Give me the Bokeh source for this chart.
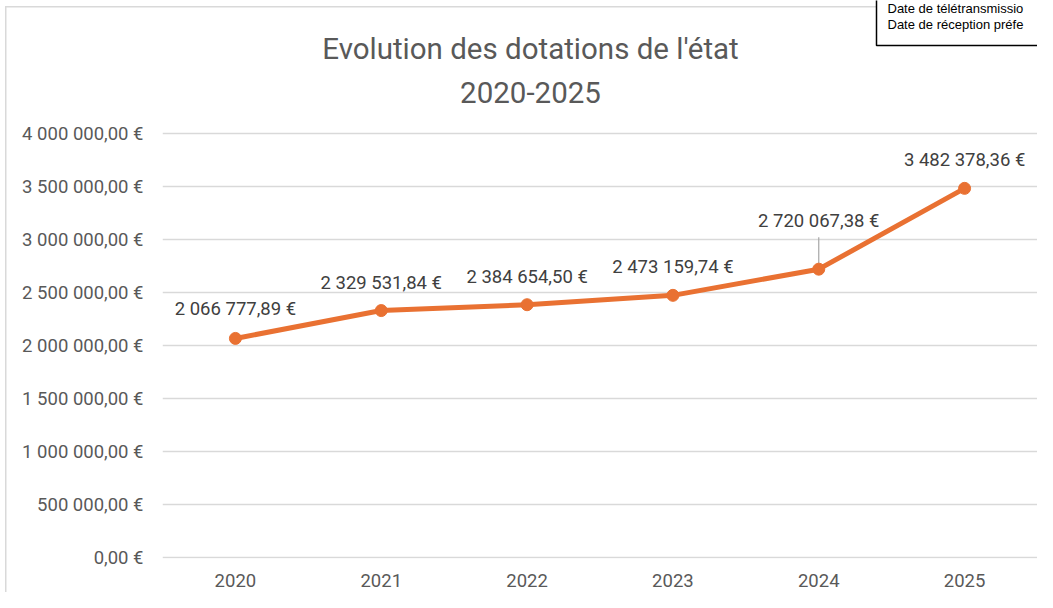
from bokeh.plotting import figure
from bokeh.models import (FactorRange, Range1d, FixedTicker, Label, ColumnDataSource)
from bokeh.core.properties import value
from bokeh.embed import file_html
from bokeh.resources import INLINE

# ---- data ----
years = ["2020", "2021", "2022", "2023", "2024", "2025"]
dotations = [2066777.89, 2329531.84, 2384654.50, 2473159.74, 2720067.38, 3482378.36]
value_labels = ["2 066 777,89 €", "2 329 531,84 €", "2 384 654,50 €",
                "2 473 159,74 €", "2 720 067,38 €", "3 482 378,36 €"]
y_ticks = [0, 500000, 1000000, 1500000, 2000000, 2500000, 3000000, 3500000, 4000000]
y_tick_labels = ["0,00 €", "500 000,00 €", "1 000 000,00 €", "1 500 000,00 €",
                 "2 000 000,00 €", "2 500 000,00 €", "3 000 000,00 €",
                 "3 500 000,00 €", "4 000 000,00 €"]
title_lines = ["Evolution des dotations de l'état", "2020-2025"]
# the stamp text as far as it is visible in the picture
stamp_lines = ["Date de télétransmissio", "Date de réception préfe"]

# ---- styles ----
ORANGE = "#E97132"
GRID = "#D9D9D9"
AXIS_TXT = "#595959"
LBL_TXT = "#404040"
FONT = "Roboto"
FS = "18.5px"
label_offsets = [-29, -28, -28, -28, -48, -28]

W, H = 1037, 592
LEFT, RIGHT, BOTTOM = 162, 0, 34
FRAME_BOTTOM = H - BOTTOM          # canvas px of frame bottom
Y0_PX, YTOP_PX = 557, 133          # where 0 and 4 000 000 fall on the canvas
s = (Y0_PX - YTOP_PX) / 4000000.0  # px per unit
y_start = -(FRAME_BOTTOM - Y0_PX) / s
y_end = 4000000 + YTOP_PX / s

p = figure(width=W, height=H, x_range=FactorRange(*years, range_padding=0),
           y_range=Range1d(y_start, y_end),
           output_backend="svg", toolbar_location=None, tools="",
           min_border_left=LEFT, min_border_right=RIGHT,
           min_border_top=0, min_border_bottom=BOTTOM)
p.outline_line_color = None
p.background_fill_color = None
p.border_fill_color = None
p.styles = {
    "background": ("linear-gradient(#D9D9D9,#D9D9D9) 5px 6px / 1.5px 100% no-repeat, "
                   "linear-gradient(#D9D9D9,#D9D9D9) 5px 6px / 880px 1.5px no-repeat, white")
}

p.yaxis.ticker = FixedTicker(ticks=y_ticks)
p.yaxis.major_label_overrides = {t: l for t, l in zip(y_ticks, y_tick_labels)}
for ax in (p.xaxis[0], p.yaxis[0]):
    ax.axis_line_color = None
    ax.major_tick_line_color = None
    ax.minor_tick_line_color = None
    ax.major_tick_in = 0
    ax.major_tick_out = 0
    ax.minor_tick_in = 0
    ax.minor_tick_out = 0
    ax.major_label_text_color = AXIS_TXT
    ax.major_label_text_font = FONT
    ax.major_label_text_font_size = FS
p.yaxis.major_label_standoff = 19
p.xaxis.major_label_standoff = 15
p.xgrid.grid_line_color = None
p.ygrid.grid_line_color = GRID
p.ygrid.grid_line_width = 1.3

src = ColumnDataSource(dict(x=years, y=dotations, txt=value_labels, off=label_offsets))

# leader line for the 2024 label
i24 = years.index("2024")
p.segment(x0=[years[i24]], y0=[dotations[i24]], x1=[years[i24]],
          y1=[dotations[i24] + 32 / s], line_color="#A6A6A6", line_width=1.2)

p.line("x", "y", source=src, line_color=ORANGE, line_width=5, line_join="round")
p.scatter("x", "y", source=src, size=12, fill_color=ORANGE, line_color=ORANGE)

p.text("x", "y", text="txt", source=src, y_offset="off", text_align="center",
       text_baseline="middle", text_color=LBL_TXT, text_font=value(FONT),
       text_font_size=FS)

# title
p.add_layout(Label(x=530, y=48, x_units="canvas", y_units="canvas", text=title_lines[0],
                   text_align="center", text_baseline="middle", text_color=AXIS_TXT,
                   text_font=FONT, text_font_size="29.5px"))
p.add_layout(Label(x=530, y=92, x_units="canvas", y_units="canvas", text=title_lines[1],
                   text_align="center", text_baseline="middle", text_color=AXIS_TXT,
                   text_font=FONT, text_font_size="29.5px"))

# stamp box (text with a bordered background)
p.add_layout(Label(x=876, y=45, x_units="canvas", y_units="canvas",
                   text="\n".join(stamp_lines),
                   text_align="left", text_baseline="bottom", text_color="black",
                   text_font="Liberation Sans", text_font_size="13px",
                   text_line_height=1.05,
                   background_fill_color="white", border_line_color="black",
                   border_line_width=1.5, padding=(11, 120, 120, 14)))

open("out.html", "w").write(file_html(p, INLINE))
